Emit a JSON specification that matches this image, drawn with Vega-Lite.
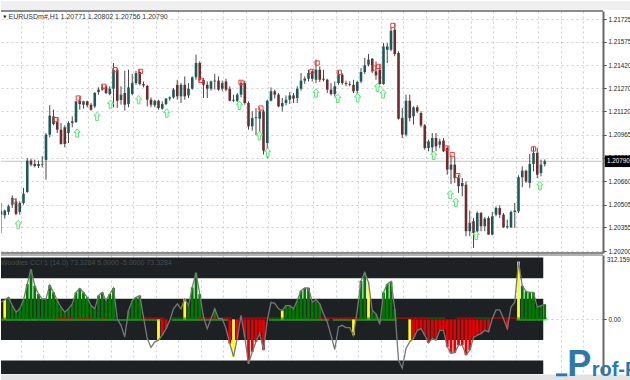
{"$schema":"https://vega.github.io/schema/vega-lite/v6.json","padding":0,"spacing":2,"bounds":"flush","background":"white","config":{"view":{"stroke":null},"axis":{"labelFont":"Liberation Sans","labelFontSize":6.3,"labelColor":"#222","grid":true,"gridColor":"#cfcfcf","gridDash":[2,3],"gridWidth":1,"tickColor":"#444","tickSize":3,"labelPadding":2,"domainColor":"#666","domainWidth":2}},
"datasets":{"bars":[
{"i":0,"o":1.20439,"h":1.20516,"l":1.20319,"c":1.20461,"v":83,"t":"g","b":1},
{"i":1,"o":1.20435,"h":1.20472,"l":1.20413,"c":1.20466,"v":94,"k":"y","t":"g","b":1},
{"i":2,"o":1.20457,"h":1.20505,"l":1.20439,"c":1.20494,"v":107,"k":"g","t":"g","b":1},
{"i":3,"o":1.20505,"h":1.20566,"l":1.20483,"c":1.20549,"v":67,"k":"g","t":"g","b":1},
{"i":4,"o":1.20527,"h":1.20549,"l":1.20435,"c":1.20444,"v":35,"k":"g","t":"g","b":1},
{"i":5,"o":1.20457,"h":1.20527,"l":1.20439,"c":1.20516,"v":51,"k":"g","t":"g","b":1},
{"i":6,"o":1.20516,"h":1.20615,"l":1.20505,"c":1.20577,"v":94,"k":"g","t":"g","b":1},
{"i":7,"o":1.20588,"h":1.20812,"l":1.20582,"c":1.20794,"v":171,"k":"g","t":"g","b":1},
{"i":8,"o":1.20794,"h":1.20807,"l":1.20757,"c":1.20768,"v":243,"k":"g","t":"g","b":1},
{"i":9,"o":1.20772,"h":1.20801,"l":1.2075,"c":1.20759,"v":163,"k":"g","t":"g","b":1},
{"i":10,"o":1.20759,"h":1.20794,"l":1.20746,"c":1.20772,"v":123,"k":"g","t":"g","b":1},
{"i":11,"o":1.20768,"h":1.20823,"l":1.2075,"c":1.20772,"v":99,"k":"g","t":"g","b":1},
{"i":12,"o":1.20799,"h":1.20976,"l":1.20669,"c":1.20965,"v":99,"k":"g","t":"g","b":1},
{"i":13,"o":1.20965,"h":1.21158,"l":1.20947,"c":1.2109,"v":166,"k":"g","t":"g","b":1},
{"i":14,"o":1.21085,"h":1.21129,"l":1.21026,"c":1.21035,"v":131,"k":"g","t":"g","b":1},
{"i":15,"o":1.21048,"h":1.21074,"l":1.20976,"c":1.20998,"v":91,"k":"g","t":"r","b":1},
{"i":16,"o":1.20998,"h":1.21042,"l":1.20899,"c":1.20904,"v":59,"k":"g","t":"r","b":1},
{"i":17,"o":1.21013,"h":1.21026,"l":1.20882,"c":1.20904,"v":35,"k":"g","t":"r","b":1},
{"i":18,"o":1.20976,"h":1.21053,"l":1.2091,"c":1.21042,"v":51,"k":"g","t":"r","b":1},
{"i":19,"o":1.21042,"h":1.21085,"l":1.21013,"c":1.21053,"v":75,"k":"g","t":"r","b":1},
{"i":20,"o":1.21048,"h":1.21184,"l":1.21042,"c":1.21184,"v":131,"k":"g","t":"g","b":1},
{"i":21,"o":1.21188,"h":1.21217,"l":1.21129,"c":1.21166,"v":150,"k":"g","t":"r","b":1},
{"i":22,"o":1.21162,"h":1.21188,"l":1.21136,"c":1.21184,"v":131,"k":"g","t":"r","b":1},
{"i":23,"o":1.21184,"h":1.21188,"l":1.21145,"c":1.21158,"v":107,"k":"g","t":"r","b":1},
{"i":24,"o":1.21162,"h":1.21173,"l":1.21123,"c":1.21129,"v":67,"k":"g","t":"r","b":1},
{"i":25,"o":1.21151,"h":1.21245,"l":1.2114,"c":1.21239,"v":51,"k":"g","t":"g","b":1},
{"i":26,"o":1.21245,"h":1.21276,"l":1.21228,"c":1.21261,"v":115,"k":"g","t":"g","b":1},
{"i":27,"o":1.21261,"h":1.21293,"l":1.21254,"c":1.21276,"v":131,"k":"g","t":"g","b":1},
{"i":28,"o":1.21283,"h":1.21293,"l":1.21232,"c":1.21239,"v":91,"k":"g","t":"r","b":1},
{"i":29,"o":1.21232,"h":1.21283,"l":1.21223,"c":1.21267,"v":123,"k":"g","t":"g","b":1},
{"i":30,"o":1.21267,"h":1.21436,"l":1.21145,"c":1.21392,"v":152,"k":"g","t":"g","b":1},
{"i":31,"o":1.21392,"h":1.21403,"l":1.2114,"c":1.21188,"v":3,"b":1},
{"i":32,"o":1.21193,"h":1.21283,"l":1.21162,"c":1.21228,"v":-29,"b":1},
{"i":33,"o":1.21239,"h":1.21385,"l":1.21123,"c":1.21162,"v":-85,"b":1},
{"i":34,"o":1.21166,"h":1.21392,"l":1.21145,"c":1.21276,"v":43,"k":"g","t":"g","b":1},
{"i":35,"o":1.21232,"h":1.21364,"l":1.21223,"c":1.21304,"v":91,"k":"g","t":"g","b":1},
{"i":36,"o":1.21304,"h":1.21385,"l":1.21293,"c":1.2137,"v":107,"k":"g","t":"g","b":1},
{"i":37,"o":1.21377,"h":1.21392,"l":1.21289,"c":1.21298,"v":115,"k":"g","t":"g","b":1},
{"i":38,"o":1.21298,"h":1.21315,"l":1.21276,"c":1.21289,"v":11,"t":"r","b":1},
{"i":39,"o":1.21285,"h":1.21293,"l":1.21151,"c":1.21195,"v":-93,"t":"r","b":1},
{"i":40,"o":1.21195,"h":1.2121,"l":1.21145,"c":1.21162,"v":-136,"t":"r","b":1},
{"i":41,"o":1.21158,"h":1.21195,"l":1.21145,"c":1.21188,"v":-109,"t":"r","b":1},
{"i":42,"o":1.21188,"h":1.21195,"l":1.21129,"c":1.2114,"v":-101,"k":"y","t":"r","b":1},
{"i":43,"o":1.21136,"h":1.21184,"l":1.21129,"c":1.21166,"v":-77,"k":"r","t":"r"},
{"i":44,"o":1.21166,"h":1.21206,"l":1.21158,"c":1.21202,"v":-45,"k":"r"},
{"i":45,"o":1.21202,"h":1.21217,"l":1.21188,"c":1.2121,"v":-5},
{"i":46,"o":1.2121,"h":1.21272,"l":1.21202,"c":1.21261,"v":51,"t":"g","b":1},
{"i":47,"o":1.21293,"h":1.21326,"l":1.21195,"c":1.21217,"v":75,"t":"g","b":1},
{"i":48,"o":1.21217,"h":1.21304,"l":1.21173,"c":1.21293,"v":51,"t":"g","b":1},
{"i":49,"o":1.21293,"h":1.21348,"l":1.21195,"c":1.21217,"v":99,"k":"y","t":"g","b":1},
{"i":50,"o":1.21223,"h":1.21304,"l":1.21206,"c":1.21267,"v":67,"k":"g","t":"g","b":1},
{"i":51,"o":1.21267,"h":1.21348,"l":1.21261,"c":1.21342,"v":155,"k":"g","t":"g","b":1},
{"i":52,"o":1.21342,"h":1.21491,"l":1.21326,"c":1.21436,"v":227,"k":"g","t":"g","b":1},
{"i":53,"o":1.21436,"h":1.21447,"l":1.21315,"c":1.21326,"v":123,"k":"g","t":"r","b":1},
{"i":54,"o":1.21326,"h":1.21337,"l":1.21206,"c":1.21293,"v":11,"k":"g","t":"r","b":1},
{"i":55,"o":1.21293,"h":1.21315,"l":1.21206,"c":1.21267,"v":-45,"t":"r","b":1},
{"i":56,"o":1.21267,"h":1.2132,"l":1.21254,"c":1.21315,"v":3,"t":"r","b":1},
{"i":57,"o":1.21315,"h":1.21364,"l":1.21261,"c":1.2132,"v":51,"k":"g","t":"r","b":1},
{"i":58,"o":1.2132,"h":1.21348,"l":1.21254,"c":1.21261,"v":3,"t":"r","b":1},
{"i":59,"o":1.21267,"h":1.2132,"l":1.2125,"c":1.21304,"v":3,"t":"r","b":1},
{"i":60,"o":1.21315,"h":1.21333,"l":1.2125,"c":1.21261,"v":-45,"t":"r","b":1},
{"i":61,"o":1.21267,"h":1.21283,"l":1.21184,"c":1.21188,"v":-117,"k":"r","t":"r"},
{"i":62,"o":1.21188,"h":1.21228,"l":1.2118,"c":1.21195,"v":-181,"k":"y"},
{"i":63,"o":1.21188,"h":1.21239,"l":1.2118,"c":1.21228,"v":-93,"k":"r"},
{"i":64,"o":1.21228,"h":1.2132,"l":1.2121,"c":1.21304,"v":19,"t":"r"},
{"i":65,"o":1.21304,"h":1.2132,"l":1.21162,"c":1.21173,"v":-85,"k":"r","t":"r"},
{"i":66,"o":1.21173,"h":1.21184,"l":1.20998,"c":1.2102,"v":-216,"k":"r","t":"r"},
{"i":67,"o":1.2102,"h":1.21118,"l":1.20991,"c":1.21074,"v":-157,"k":"r","t":"r"},
{"i":68,"o":1.21079,"h":1.2114,"l":1.20961,"c":1.21074,"v":-109,"k":"r","t":"r"},
{"i":69,"o":1.2107,"h":1.21145,"l":1.20932,"c":1.21118,"v":-69,"k":"r","t":"r"},
{"i":70,"o":1.21118,"h":1.21129,"l":1.20834,"c":1.2086,"v":-149,"k":"r","t":"r"},
{"i":71,"o":1.2091,"h":1.21195,"l":1.20812,"c":1.21188,"v":-5,"t":"r"},
{"i":72,"o":1.21188,"h":1.21276,"l":1.21184,"c":1.2125,"v":83,"t":"g","b":1},
{"i":73,"o":1.2125,"h":1.21261,"l":1.21202,"c":1.21228,"v":78,"t":"g","b":1},
{"i":74,"o":1.21228,"h":1.21239,"l":1.21145,"c":1.21151,"v":51,"t":"g","b":1},
{"i":75,"o":1.21151,"h":1.21206,"l":1.21118,"c":1.21173,"v":43,"k":"y","t":"g","b":1},
{"i":76,"o":1.21173,"h":1.21223,"l":1.21158,"c":1.21195,"v":67,"k":"g","t":"g","b":1},
{"i":77,"o":1.21195,"h":1.21245,"l":1.21166,"c":1.21223,"v":67,"k":"g","t":"g","b":1},
{"i":78,"o":1.21223,"h":1.21239,"l":1.21173,"c":1.21202,"v":51,"k":"g","t":"g","b":1},
{"i":79,"o":1.21206,"h":1.21283,"l":1.21173,"c":1.21267,"v":91,"k":"g","t":"g","b":1},
{"i":80,"o":1.21267,"h":1.2137,"l":1.21254,"c":1.2132,"v":139,"k":"g","t":"g","b":1},
{"i":81,"o":1.2132,"h":1.21348,"l":1.21298,"c":1.21333,"v":152,"k":"g","t":"g","b":1},
{"i":82,"o":1.21333,"h":1.21392,"l":1.21315,"c":1.2137,"v":152,"k":"g","t":"g","b":1},
{"i":83,"o":1.21381,"h":1.21392,"l":1.21315,"c":1.21333,"v":83,"k":"g","b":1},
{"i":84,"o":1.21326,"h":1.21458,"l":1.21304,"c":1.21392,"v":96,"k":"g","b":1},
{"i":85,"o":1.21392,"h":1.21414,"l":1.21311,"c":1.21326,"v":75,"k":"g","t":"r","b":1},
{"i":86,"o":1.21333,"h":1.21392,"l":1.21315,"c":1.21326,"v":27,"t":"r","b":1},
{"i":87,"o":1.21326,"h":1.21333,"l":1.21239,"c":1.21261,"v":-13,"t":"r","b":1},
{"i":88,"o":1.21261,"h":1.21304,"l":1.21223,"c":1.21232,"v":-77,"t":"r"},
{"i":89,"o":1.21232,"h":1.21315,"l":1.21217,"c":1.21283,"v":-146,"t":"r","b":1},
{"i":90,"o":1.21304,"h":1.21385,"l":1.21293,"c":1.21359,"v":-37,"t":"r","b":1},
{"i":91,"o":1.21359,"h":1.2137,"l":1.21293,"c":1.21304,"v":-29,"t":"r","b":1},
{"i":92,"o":1.21304,"h":1.2132,"l":1.21283,"c":1.21298,"v":-40,"t":"r","b":1},
{"i":93,"o":1.21298,"h":1.21315,"l":1.21283,"c":1.21293,"v":-40,"t":"r","b":1},
{"i":94,"o":1.21293,"h":1.21326,"l":1.21239,"c":1.2125,"v":-77,"k":"y","t":"r"},
{"i":95,"o":1.21254,"h":1.2132,"l":1.21228,"c":1.21311,"v":43,"t":"r","b":1},
{"i":96,"o":1.21315,"h":1.21403,"l":1.21304,"c":1.21377,"v":187,"k":"g","t":"g","b":1},
{"i":97,"o":1.21377,"h":1.21469,"l":1.21364,"c":1.21421,"v":227,"k":"g","t":"g","b":1},
{"i":98,"o":1.21425,"h":1.21495,"l":1.21414,"c":1.21458,"v":179,"k":"y","t":"g","b":1},
{"i":99,"o":1.21464,"h":1.21469,"l":1.2137,"c":1.21381,"v":43,"k":"g","t":"g","b":1},
{"i":100,"o":1.21381,"h":1.21447,"l":1.21326,"c":1.21355,"v":27,"k":"g","t":"g","b":1},
{"i":101,"o":1.21392,"h":1.21425,"l":1.21293,"c":1.21298,"v":-24,"t":"g","b":1},
{"i":102,"o":1.21298,"h":1.21567,"l":1.21293,"c":1.21545,"v":131,"k":"g","t":"g","b":1},
{"i":103,"o":1.21523,"h":1.21567,"l":1.21436,"c":1.21545,"v":171,"k":"g","t":"g","b":1},
{"i":104,"o":1.21523,"h":1.2167,"l":1.21513,"c":1.21648,"v":184,"k":"g","t":"g","b":1},
{"i":105,"o":1.21655,"h":1.21699,"l":1.2148,"c":1.21495,"v":51,"k":"g","t":"g","b":1},
{"i":106,"o":1.21502,"h":1.21513,"l":1.21064,"c":1.2107,"v":-197,"t":"r"},
{"i":107,"o":1.21074,"h":1.2114,"l":1.20943,"c":1.20965,"v":-237,"t":"r"},
{"i":108,"o":1.20965,"h":1.21228,"l":1.20954,"c":1.21188,"v":-141,"t":"r"},
{"i":109,"o":1.21188,"h":1.21228,"l":1.21053,"c":1.21074,"v":-109,"k":"y","t":"r"},
{"i":110,"o":1.21085,"h":1.21151,"l":1.21031,"c":1.21145,"v":-93,"k":"r","t":"r"},
{"i":111,"o":1.21145,"h":1.21158,"l":1.21107,"c":1.21118,"v":-53,"k":"r","t":"r"},
{"i":112,"o":1.21107,"h":1.21118,"l":1.21013,"c":1.21026,"v":-45,"k":"r","t":"r"},
{"i":113,"o":1.21026,"h":1.21035,"l":1.20866,"c":1.20877,"v":-77,"k":"r","t":"r"},
{"i":114,"o":1.20877,"h":1.20932,"l":1.20856,"c":1.20921,"v":-114,"k":"r","t":"r"},
{"i":115,"o":1.20882,"h":1.20976,"l":1.20845,"c":1.20943,"v":-93,"k":"r","t":"g"},
{"i":116,"o":1.20943,"h":1.20976,"l":1.20856,"c":1.20888,"v":-101,"k":"r","t":"g"},
{"i":117,"o":1.20899,"h":1.20939,"l":1.20877,"c":1.20921,"v":-53,"k":"r","t":"g"},
{"i":118,"o":1.20926,"h":1.20943,"l":1.20851,"c":1.20856,"v":-53,"k":"r","t":"g"},
{"i":119,"o":1.20877,"h":1.20888,"l":1.20702,"c":1.20735,"v":-133,"k":"r"},
{"i":120,"o":1.20735,"h":1.20834,"l":1.20641,"c":1.20768,"v":-165,"k":"r"},
{"i":121,"o":1.20768,"h":1.20823,"l":1.20647,"c":1.2068,"v":-162,"k":"r"},
{"i":122,"o":1.2068,"h":1.20702,"l":1.20582,"c":1.20626,"v":-125,"k":"r","t":"r"},
{"i":123,"o":1.20626,"h":1.2068,"l":1.2056,"c":1.20647,"v":-125,"k":"r","t":"r"},
{"i":124,"o":1.20636,"h":1.20658,"l":1.20297,"c":1.2033,"v":-173,"k":"r","t":"r"},
{"i":125,"o":1.2033,"h":1.20466,"l":1.20297,"c":1.20385,"v":-149,"k":"r","t":"r"},
{"i":126,"o":1.20396,"h":1.20417,"l":1.2022,"c":1.20319,"v":-88,"k":"r","t":"r"},
{"i":127,"o":1.2033,"h":1.20461,"l":1.20319,"c":1.2045,"v":-77,"k":"r","t":"g"},
{"i":128,"o":1.2045,"h":1.20457,"l":1.2033,"c":1.20363,"v":-69,"k":"r","t":"g"},
{"i":129,"o":1.20363,"h":1.20422,"l":1.2033,"c":1.20413,"v":-53,"k":"r","t":"g"},
{"i":130,"o":1.20417,"h":1.20428,"l":1.20308,"c":1.20308,"v":-61,"k":"r","t":"g"},
{"i":131,"o":1.20308,"h":1.20457,"l":1.20304,"c":1.20428,"v":3,"t":"r"},
{"i":132,"o":1.20439,"h":1.20494,"l":1.20428,"c":1.20483,"v":46,"t":"r"},
{"i":133,"o":1.20483,"h":1.20501,"l":1.20417,"c":1.20439,"v":46,"t":"r"},
{"i":134,"o":1.20439,"h":1.2045,"l":1.20352,"c":1.20356,"v":3,"t":"r"},
{"i":135,"o":1.20356,"h":1.20407,"l":1.20347,"c":1.20363,"v":-45,"k":"r","t":"r"},
{"i":136,"o":1.20356,"h":1.20466,"l":1.20352,"c":1.20457,"v":59,"t":"r"},
{"i":137,"o":1.20457,"h":1.20516,"l":1.20352,"c":1.20466,"v":83,"t":"r"},
{"i":138,"o":1.20461,"h":1.20698,"l":1.2045,"c":1.20685,"v":280,"k":"y","t":"g","b":1},
{"i":139,"o":1.20685,"h":1.20757,"l":1.20619,"c":1.20728,"v":163,"k":"g","t":"g","b":1},
{"i":140,"o":1.20728,"h":1.20735,"l":1.20647,"c":1.20658,"v":136,"k":"g","t":"g","b":1},
{"i":141,"o":1.20647,"h":1.20838,"l":1.20615,"c":1.20772,"v":131,"k":"g","t":"g","b":1},
{"i":142,"o":1.20772,"h":1.20888,"l":1.20724,"c":1.20845,"v":131,"k":"g","t":"g","b":1},
{"i":143,"o":1.20845,"h":1.20877,"l":1.2068,"c":1.20702,"v":59,"k":"g","t":"g","b":1},
{"i":144,"o":1.20713,"h":1.20801,"l":1.20691,"c":1.20768,"v":67,"k":"g","t":"g","b":1},
{"i":145,"o":1.20771,"h":1.20802,"l":1.20756,"c":1.2079,"v":73.33,"k":"g","t":"g","b":1}
],
"arrows":[{"x":4.6,"p":1.20374},{"x":20.3,"p":1.20976},{"x":25.6,"p":1.21085},{"x":29.2,"p":1.21166},{"x":36.7,"p":1.21195},{"x":44.2,"p":1.21107},{"x":63.6,"p":1.21158},{"x":68.9,"p":1.20958},{"x":71.1,"p":1.20849},{"x":84,"p":1.21239},{"x":89.8,"p":1.21204},{"x":95.1,"p":1.21208},{"x":100.4,"p":1.21276},{"x":101.9,"p":1.21234},{"x":115.4,"p":1.20829},{"x":119.8,"p":1.20571},{"x":121.3,"p":1.2052},{"x":126.7,"p":1.20304},{"x":143.7,"p":1.2063}],
"boxes":[{"x":3.4,"p":1.20527},{"x":14.7,"p":1.21064},{"x":20.6,"p":1.21206},{"x":27.4,"p":1.21283},{"x":30.4,"p":1.21392},{"x":37.2,"p":1.21381},{"x":53.3,"p":1.21322},{"x":64,"p":1.21309},{"x":69.3,"p":1.2114},{"x":82.9,"p":1.21381},{"x":84.3,"p":1.21436},{"x":90.2,"p":1.21375},{"x":99.4,"p":1.21403},{"x":100.7,"p":1.21414},{"x":104.5,"p":1.21683},{"x":118.9,"p":1.20877},{"x":120.3,"p":1.20834},{"x":121.8,"p":1.20696},{"x":142,"p":1.20871}]},
"vconcat":[
{"width":602,"height":242,"encoding":{"x":{"field":"i","type":"quantitative","title":null,"scale":{"domain":[0,160.53],"nice":false,"zero":false},"axis":{"title":null,"labels":false,"ticks":false,"domain":false,"values":[5.33,11.33,17.33,23.33,29.33,35.33,41.33,47.33,53.33,59.33,65.33,71.33,77.33,83.33,89.33,95.33,101.33,107.33,113.33,119.33,125.33,131.33,137.33,143.33,149.33,155.33]}},"y":{"field":"l","type":"quantitative","title":null,"scale":{"domain":[1.20187,1.21778],"nice":false,"zero":false},"axis":{"title":null,"orient":"right","format":".5f","values":[1.21725,1.21575,1.2142,1.2127,1.2112,1.20965,1.20812,1.2066,1.20505,1.20355,1.202]}}},
"layer":[
{"data":{"values":[{"x0":0,"x1":168,"lo":1.21785,"hi":1.21844}]},"mark":{"type":"rect","color":"#efefef"},"encoding":{"x":{"field":"x0","type":"quantitative","title":null},"x2":{"field":"x1"},"y":{"field":"lo","type":"quantitative","title":null},"y2":{"field":"hi"}}},
{"data":{"values":[{"p":1.2079}]},"mark":{"type":"rule","color":"#c4c4c4","strokeWidth":1},"encoding":{"x":null,"y":{"field":"p","type":"quantitative","title":null}}},
{"data":{"name":"bars"},"mark":{"type":"rule","color":"#484848","strokeWidth":1,"clip":true},"encoding":{"y":{"field":"l","type":"quantitative","title":null},"y2":{"field":"h"}}},
{"data":{"name":"bars"},"mark":{"type":"rule","strokeWidth":2.6,"clip":true},"encoding":{"y":{"field":"o","type":"quantitative","title":null},"y2":{"field":"c"},"color":{"condition":{"test":"datum.c>=datum.o","value":"#1b5a58"},"value":"#6b2c2e"}}},
{"data":{"name":"boxes"},"mark":{"type":"point","shape":"square","size":18,"filled":false,"stroke":"#f43c3c","strokeWidth":1,"opacity":1},"encoding":{"x":{"field":"x","type":"quantitative","title":null},"y":{"field":"p","type":"quantitative","title":null}}},
{"data":{"name":"arrows"},"mark":{"type":"point","shape":"M0,-1L0.75,-0.15L0.32,-0.15L0.32,1L-0.32,1L-0.32,-0.15L-0.75,-0.15Z","size":70,"filled":true,"fill":"#eafff0","fillOpacity":1,"stroke":"#5fe47a","strokeWidth":1},"encoding":{"x":{"field":"x","type":"quantitative","title":null},"y":{"field":"p","type":"quantitative","title":null}}},
{"data":{"values":[{"x":2,"p":1.21738,"t":"EURUSDm#,H1  1.20771 1.20802 1.20756 1.20790"}]},"mark":{"type":"text","align":"left","baseline":"middle","font":"Liberation Sans","fontSize":7,"color":"#333"},"encoding":{"x":{"field":"x","type":"quantitative","title":null},"y":{"field":"p","type":"quantitative","title":null},"text":{"field":"t"}}},
{"data":{"values":[{"x":1,"p":1.21738,"t":"▼"}]},"mark":{"type":"text","align":"center","baseline":"middle","font":"DejaVu Sans","fontSize":4,"color":"#111"},"encoding":{"x":{"field":"x","type":"quantitative","title":null},"y":{"field":"p","type":"quantitative","title":null},"text":{"field":"t"}}},
{"data":{"values":[{"x0":161,"x1":168,"lo":1.20752,"hi":1.20828}]},"mark":{"type":"rect","color":"#000"},"encoding":{"x":{"field":"x0","type":"quantitative","title":null},"x2":{"field":"x1"},"y":{"field":"lo","type":"quantitative","title":null},"y2":{"field":"hi"}}},
{"data":{"values":[{"x":161.6,"p":1.2079,"t":"1.20790"}]},"mark":{"type":"text","align":"left","baseline":"middle","font":"Liberation Sans","fontSize":6.3,"color":"#fff"},"encoding":{"x":{"field":"x","type":"quantitative","title":null},"y":{"field":"p","type":"quantitative","title":null},"text":{"field":"t"}}},
{"data":{"values":[{"p":1.21778},{"p":1.20187}]},"mark":{"type":"rule","color":"#666","strokeWidth":1.5},"encoding":{"x":null,"y":{"field":"p","type":"quantitative","title":null}}}
]},
{"width":602,"height":119,"encoding":{"x":{"field":"i","type":"quantitative","title":null,"scale":{"domain":[0,160.53],"nice":false,"zero":false},"axis":{"title":null,"labels":false,"ticks":false,"domain":false,"values":[5.33,11.33,17.33,23.33,29.33,35.33,41.33,47.33,53.33,59.33,65.33,71.33,77.33,83.33,89.33,95.33,101.33,107.33,113.33,119.33,125.33,131.33,137.33,143.33,149.33,155.33]}},"y":{"field":"v","type":"quantitative","title":null,"scale":{"domain":[-265,312.16],"nice":false,"zero":false},"axis":{"title":null,"orient":"right","format":".2f","values":[0]}}},
"layer":[
{"data":{"values":[{"x0":0,"x1":144.6,"lo":200,"hi":300},{"x0":0,"x1":144.6,"lo":-100,"hi":100},{"x0":0,"x1":144.6,"lo":-265,"hi":-200}]},"mark":{"type":"rect","color":"#1e2124"},"encoding":{"x":{"field":"x0","type":"quantitative","title":null},"x2":{"field":"x1"},"y":{"field":"lo","type":"quantitative","title":null},"y2":{"field":"hi"}}},
{"data":{"values":[{"x0":0,"x1":168,"lo":-300,"hi":-268}]},"mark":{"type":"rect","color":"#e3e3e3"},"encoding":{"x":{"field":"x0","type":"quantitative","title":null},"x2":{"field":"x1"},"y":{"field":"lo","type":"quantitative","title":null},"y2":{"field":"hi"}}},
{"data":{"name":"bars"},"transform":[{"filter":"datum.k"}],"mark":{"type":"rule","strokeWidth":2.8,"clip":true},"encoding":{"y":{"field":"v","type":"quantitative","title":null},"y2":{"datum":0},"color":{"field":"k","type":"nominal","legend":null,"scale":{"domain":["g","r","y"],"range":["#007a00","#e80000","#ffff1a"]}}}},
{"data":{"name":"bars"},"transform":[{"filter":"datum.t"}],"mark":{"type":"tick","orient":"horizontal","size":4.2,"thickness":1.3,"clip":true},"encoding":{"y":{"datum":6,"type":"quantitative"},"color":{"field":"t","type":"nominal","legend":null,"scale":{"domain":["g","r"],"range":["#35d535","#f0705a"]}}}},
{"data":{"name":"bars"},"transform":[{"filter":"datum.b"}],"mark":{"type":"tick","orient":"horizontal","size":4.2,"thickness":1.3,"color":"#35d535","clip":true},"encoding":{"y":{"datum":-3,"type":"quantitative"}}},
{"data":{"name":"bars"},"mark":{"type":"line","color":"#777","strokeWidth":1.3,"clip":true},"encoding":{"y":{"field":"v","type":"quantitative","title":null}}},
{"data":{"values":[{"x":0,"v":272,"t":"Woodies CCI 1 (14.0) 73.3284 5.0000 -5.0000 73.3284"}]},"mark":{"type":"text","align":"left","baseline":"middle","font":"Liberation Sans","fontSize":7,"color":"#4a4d50"},"encoding":{"x":{"field":"x","type":"quantitative","title":null},"y":{"field":"v","type":"quantitative","title":null},"text":{"field":"t"}}},
{"data":{"values":[{"x":161.6,"v":290,"t":"312.1599"}]},"mark":{"type":"text","align":"left","baseline":"middle","font":"Liberation Sans","fontSize":6.3,"color":"#222"},"encoding":{"x":{"field":"x","type":"quantitative","title":null},"y":{"field":"v","type":"quantitative","title":null},"text":{"field":"t"}}},
{"data":{"values":[{"p":312.16}]},"mark":{"type":"rule","color":"#666","strokeWidth":1},"encoding":{"x":null,"y":{"field":"p","type":"quantitative","title":null}}},
{"data":{"values":[{"x0":148,"x1":151,"lo":-276,"hi":-262}]},"mark":{"type":"rect","color":"#2b78ad"},"encoding":{"x":{"field":"x0","type":"quantitative","title":null},"x2":{"field":"x1"},"y":{"field":"lo","type":"quantitative","title":null},"y2":{"field":"hi"}}},
{"data":{"values":[{"x":151,"v":-276,"t":"P"}]},"mark":{"type":"text","align":"left","baseline":"alphabetic","font":"Liberation Sans","fontWeight":"bold","fontSize":36,"color":"#2b78ad"},"encoding":{"x":{"field":"x","type":"quantitative","title":null},"y":{"field":"v","type":"quantitative","title":null},"text":{"field":"t"}}},
{"data":{"values":[{"x":157.5,"v":-276,"t":"rof-Fx"}]},"mark":{"type":"text","align":"left","baseline":"alphabetic","font":"Liberation Sans","fontWeight":"bold","fontSize":20,"color":"#2b78ad"},"encoding":{"x":{"field":"x","type":"quantitative","title":null},"y":{"field":"v","type":"quantitative","title":null},"text":{"field":"t"}}}
]}
]}
